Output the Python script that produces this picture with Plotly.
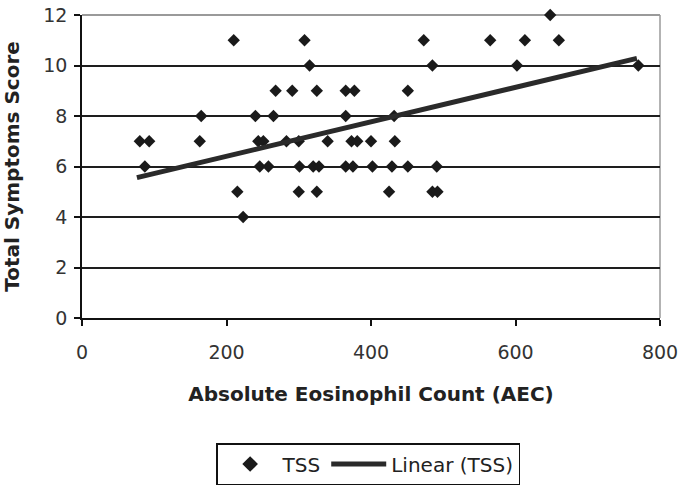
import plotly.graph_objects as go

# Scatter data (AEC vs Total Symptoms Score)
aec = [648,
       210, 308, 473, 565, 613, 660,
       315, 485, 602, 770,
       268, 291, 325, 365, 377, 451,
       165, 240, 265, 365, 432,
       80, 93, 163, 244, 251, 283, 300, 340, 373, 381, 400, 433,
       87, 246, 258, 301, 320, 328, 365, 375, 402, 429, 451, 491,
       215, 300, 325, 425, 485, 492,
       223]
tss = [12,
       11, 11, 11, 11, 11, 11,
       10, 10, 10, 10,
       9, 9, 9, 9, 9, 9,
       8, 8, 8, 8, 8,
       7, 7, 7, 7, 7, 7, 7, 7, 7, 7, 7, 7,
       6, 6, 6, 6, 6, 6, 6, 6, 6, 6, 6, 6,
       5, 5, 5, 5, 5, 5,
       4]

# Linear trendline end points
trend_x = [76, 768]
trend_y = [5.56, 10.28]

x_ticks = [0, 200, 400, 600, 800]
y_ticks = [0, 2, 4, 6, 8, 10, 12]

fig = go.Figure()
fig.add_trace(go.Scatter(
    x=aec, y=tss, mode="markers", name="TSS", cliponaxis=False,
    marker=dict(symbol="diamond", size=9.5, color="#1a1a1a"),
))
fig.add_trace(go.Scatter(
    x=trend_x, y=trend_y, mode="lines", name="Linear (TSS)",
    line=dict(color="#2a2a2a", width=5),
))

tick_font = dict(family="DejaVu Sans", size=19, color="#333333")
title_font = dict(family="DejaVu Sans", size=20, color="#222222", weight="bold")

fig.update_layout(
    width=680, height=488,
    margin=dict(l=82, r=20, t=15, b=170, autoexpand=False),
    paper_bgcolor="white", plot_bgcolor="white",
    showlegend=True,
    legend=dict(
        orientation="h", x=0.495, xanchor="center",
        yref="container", y=(488 - 443) / 488, yanchor="top",
        font=dict(family="DejaVu Sans", size=20, color="#222222"),
        bordercolor="#111111", borderwidth=1.5, bgcolor="white",
        itemwidth=55, itemsizing="constant",
    ),
    xaxis=dict(
        range=[0, 800], tickvals=x_ticks, ticktext=[str(v) for v in x_ticks],
        showgrid=False, zeroline=False, automargin=False,
        showline=True, linecolor="#111111", linewidth=1.5,
        ticks="outside", ticklen=6, tickcolor="#111111", tickwidth=1.5,
        tickfont=tick_font, ticklabelstandoff=10,
        title=dict(text="Absolute Eosinophil Count (AEC)", font=title_font, standoff=25),
    ),
    yaxis=dict(
        range=[0, 12], tickvals=y_ticks, ticktext=[str(v) for v in y_ticks],
        showgrid=True, gridcolor="#1e1e1e", gridwidth=1.8, zeroline=False,
        automargin=False,
        showline=True, linecolor="#111111", linewidth=1.5,
        ticks="outside", ticklen=6, tickcolor="#111111", tickwidth=1.5,
        tickfont=tick_font, ticklabelstandoff=3,
        title=dict(text="Total Symptoms Score", font=title_font, standoff=18),
    ),
    shapes=[
        dict(type="line", xref="paper", yref="paper", x0=0, x1=1, y0=1, y1=1,
             line=dict(color="#9a9a9a", width=2), layer="between"),
        dict(type="line", xref="paper", yref="paper", x0=1, x1=1, y0=0, y1=1,
             line=dict(color="#9a9a9a", width=1.5), layer="between"),
    ],
)

fig.write_html("out.html", config={"displayModeBar": False},
               post_script="document.body.style.margin='0';document.body.style.padding='0';")
